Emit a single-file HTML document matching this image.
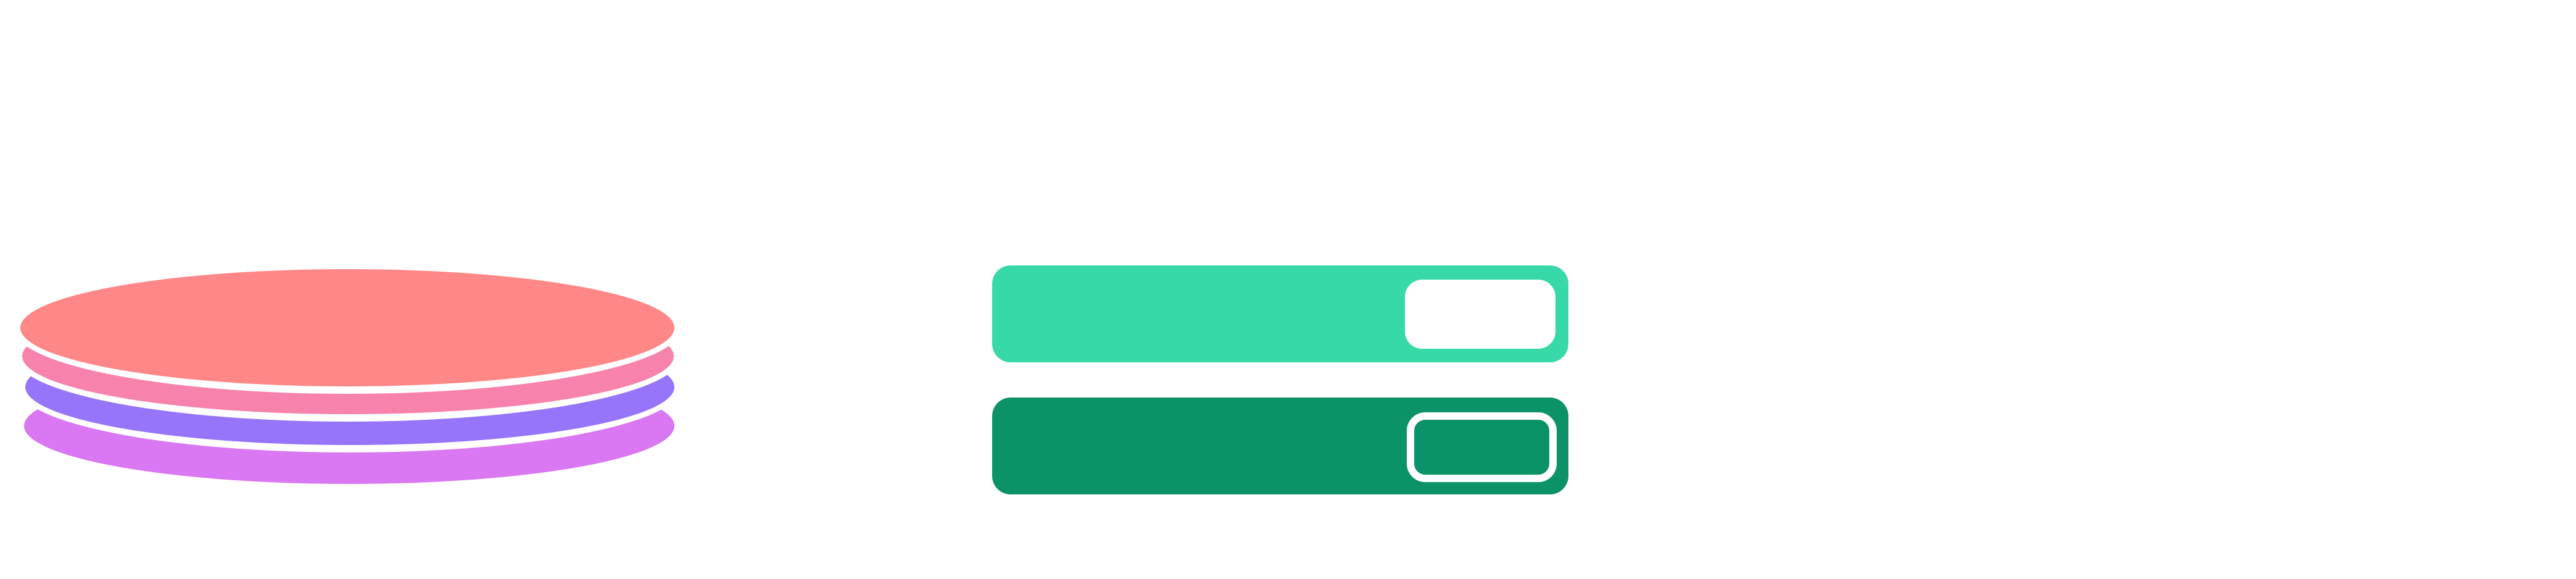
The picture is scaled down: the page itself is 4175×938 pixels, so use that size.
<!DOCTYPE html>
<html><head><meta charset="utf-8"><style>html,body{margin:0;padding:0;background:#fff}svg{display:block}</style></head>
<body>
<svg width="4175" height="938" viewBox="0 0 4175 938" xmlns="http://www.w3.org/2000/svg">
<rect width="4175" height="938" fill="#fff"/>
<ellipse cx="566" cy="690" rx="527" ry="94" fill="#da77f2"/>
<ellipse cx="567" cy="627" rx="538" ry="106" fill="#fff"/>
<ellipse cx="567" cy="627" rx="526" ry="94" fill="#9775fa"/>
<ellipse cx="564" cy="577" rx="540" ry="106" fill="#fff"/>
<ellipse cx="564" cy="577" rx="528" ry="94" fill="#f783ac"/>
<ellipse cx="563" cy="531" rx="542" ry="107" fill="#fff"/>
<ellipse cx="563" cy="531" rx="530" ry="95" fill="#ff8787"/>
<rect x="1608" y="430" width="934" height="157" rx="30" ry="30" fill="#38d9a9"/>
<rect x="2277" y="453" width="244" height="112" rx="28" ry="28" fill="#fff"/>
<rect x="1608" y="644" width="934" height="157" rx="30" ry="30" fill="#0c9268"/>
<rect x="2286" y="674" width="231" height="101" rx="24" ry="24" fill="none" stroke="#fff" stroke-width="12"/>
</svg>
</body></html>
